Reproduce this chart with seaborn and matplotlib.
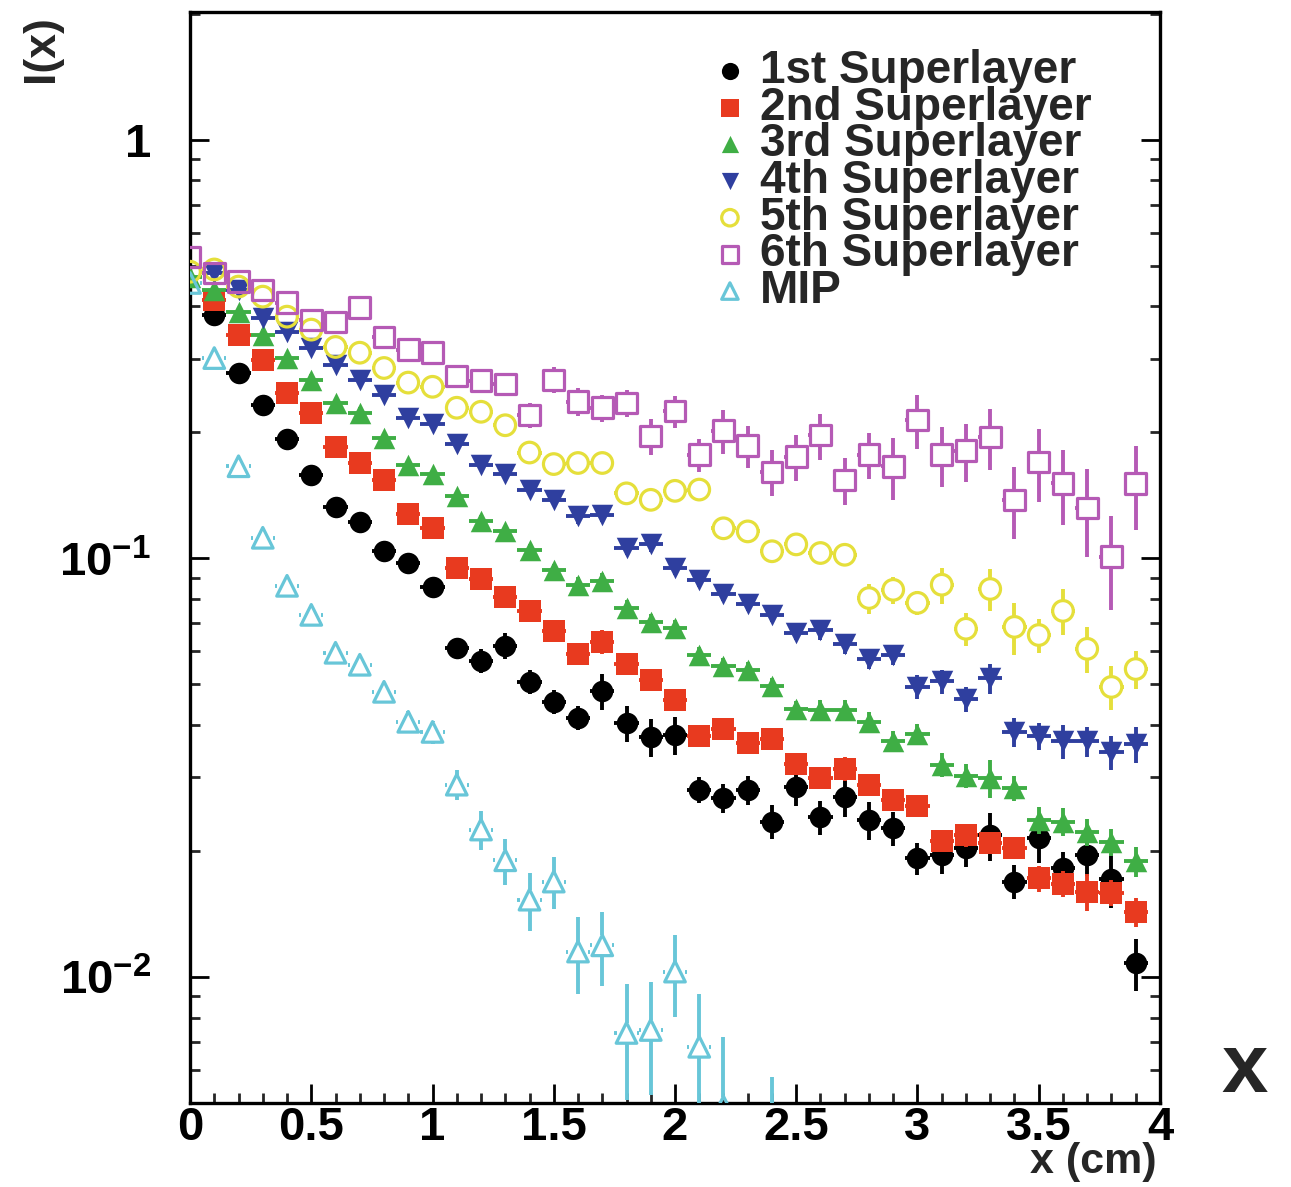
import numpy as np
import matplotlib
matplotlib.use('Agg')
import matplotlib.pyplot as plt
import seaborn as sns
from matplotlib.ticker import MultipleLocator, NullFormatter, LogLocator

nan = np.nan

# --- data ---
# bin centres (cm)
x_cm = [0.0, 0.1, 0.2, 0.3, 0.4, 0.5, 0.6, 0.7, 0.8, 0.9,
        1.0, 1.1, 1.2, 1.3, 1.4, 1.5, 1.6, 1.7, 1.8, 1.9,
        2.0, 2.1, 2.2, 2.3, 2.4, 2.5, 2.6, 2.7, 2.8, 2.9,
        3.0, 3.1, 3.2, 3.3, 3.4, 3.5, 3.6, 3.7, 3.8, 3.9]

sl1 = [nan, 0.382, 0.277, 0.233, 0.193, 0.158, 0.133, 0.122, 0.104, 0.0976,
       0.0855, 0.0611, 0.0569, 0.0618, 0.0507, 0.0454, 0.0416, 0.0482, 0.0405, 0.0374,
       0.0379, 0.0280, 0.0268, 0.0280, 0.0235, 0.0284, 0.0241, 0.0269, 0.0237, 0.0227,
       0.0192, 0.0196, 0.0203, 0.0218, 0.0169, 0.0215, 0.0182, 0.0196, 0.0171, 0.0108]
sl2 = [nan, 0.415, 0.342, 0.298, 0.249, 0.223, 0.185, 0.169, 0.154, 0.128,
       0.118, 0.0949, 0.0893, 0.0809, 0.0749, 0.0671, 0.0591, 0.0631, 0.0560, 0.0513,
       0.0459, 0.0377, 0.0392, 0.0362, 0.0370, 0.0323, 0.0299, 0.0314, 0.0288, 0.0265,
       0.0256, 0.0211, 0.0218, 0.0209, 0.0203, 0.0172, 0.0167, 0.0160, 0.0159, 0.0143]
sl3 = [0.471, 0.438, 0.388, 0.342, 0.301, 0.267, 0.235, 0.223, 0.194, 0.167,
       0.159, 0.141, 0.123, 0.116, 0.105, 0.0939, 0.0865, 0.0884, 0.0762, 0.0705,
       0.0682, 0.0588, 0.0553, 0.0541, 0.0496, 0.0437, 0.0434, 0.0434, 0.0407, 0.0366,
       0.0381, 0.0321, 0.0302, 0.0299, 0.0283, 0.0237, 0.0235, 0.0222, 0.0210, 0.0189]
sl4 = [nan, 0.481, 0.438, 0.376, 0.348, 0.318, 0.290, 0.267, 0.246, 0.217,
       0.210, 0.188, 0.167, 0.159, 0.146, 0.138, 0.126, 0.127, 0.106, 0.108,
       0.0949, 0.0889, 0.0822, 0.0778, 0.0733, 0.0664, 0.0675, 0.0625, 0.0575, 0.0588,
       0.0493, 0.0509, 0.0461, 0.0518, 0.0385, 0.0377, 0.0366, 0.0366, 0.0345, 0.0360]
sl5 = [0.484, 0.490, 0.446, 0.422, 0.378, 0.352, 0.320, 0.310, 0.285, 0.263,
       0.257, 0.229, 0.224, 0.208, 0.179, 0.168, 0.169, 0.169, 0.143, 0.138,
       0.145, 0.146, 0.118, 0.116, 0.104, 0.108, 0.103, 0.102, 0.0804, 0.0841,
       0.0783, 0.0865, 0.0679, 0.0845, 0.0686, 0.0656, 0.0749, 0.0608, 0.0493, 0.0544]
sl6 = [0.525, 0.481, 0.458, 0.438, 0.408, 0.371, 0.367, 0.397, 0.338, 0.315,
       0.310, 0.273, 0.266, 0.261, 0.220, 0.267, 0.237, 0.229, 0.235, 0.196,
       0.225, 0.177, 0.202, 0.186, 0.161, 0.175, 0.197, 0.154, 0.177, 0.166,
       0.214, 0.177, 0.181, 0.195, 0.138, 0.170, 0.151, 0.132, 0.101, 0.151]
mip = [0.455, 0.301, 0.166, 0.112, 0.0860, 0.0733, 0.0595, 0.0557, 0.0480, 0.0407,
       0.0385, 0.0288, 0.0225, 0.0190, 0.0153, 0.0169, 0.0115, 0.0119, 0.00735, 0.00747,
       0.0103, 0.00681, 0.0049, nan, 0.0035, nan, nan, nan, nan, nan,
       nan, nan, nan, nan, nan, nan, nan, nan, nan, nan]

# relative (fractional) errors
err1 = [nan, 0.03, 0.03, 0.03, 0.03, 0.03, 0.04, 0.04, 0.04, 0.04,
        0.04, 0.055, 0.066, 0.071, 0.066, 0.066, 0.066, 0.099, 0.099, 0.104,
        0.104, 0.07, 0.08, 0.08, 0.093, 0.099, 0.093, 0.104, 0.104, 0.093,
        0.088, 0.099, 0.099, 0.131, 0.093, 0.131, 0.093, 0.11, 0.147, 0.142]
err2 = [nan, 0.025, 0.025, 0.025, 0.025, 0.025, 0.025, 0.025, 0.025, 0.025,
        0.025, 0.04, 0.04, 0.04, 0.04, 0.04, 0.055, 0.066, 0.055, 0.055,
        0.055, 0.055, 0.055, 0.055, 0.055, 0.055, 0.055, 0.066, 0.06, 0.06,
        0.06, 0.06, 0.06, 0.06, 0.06, 0.07, 0.07, 0.104, 0.07, 0.082]
err3 = [0.03, 0.03, 0.03, 0.03, 0.03, 0.03, 0.03, 0.03, 0.03, 0.03,
        0.03, 0.03, 0.03, 0.03, 0.03, 0.03, 0.045, 0.045, 0.045, 0.045,
        0.045, 0.045, 0.045, 0.045, 0.045, 0.045, 0.055, 0.055, 0.055, 0.055,
        0.055, 0.066, 0.066, 0.104, 0.07, 0.075, 0.075, 0.075, 0.075, 0.082]
err4 = [nan, 0.03, 0.03, 0.03, 0.03, 0.03, 0.03, 0.03, 0.03, 0.03,
        0.03, 0.03, 0.03, 0.03, 0.03, 0.03, 0.04, 0.04, 0.04, 0.04,
        0.04, 0.04, 0.04, 0.04, 0.04, 0.04, 0.055, 0.055, 0.055, 0.055,
        0.066, 0.066, 0.07, 0.082, 0.082, 0.075, 0.093, 0.082, 0.093, 0.099]
err5 = [0.03, 0.03, 0.03, 0.03, 0.03, 0.03, 0.03, 0.03, 0.03, 0.03,
        0.03, 0.03, 0.03, 0.03, 0.04, 0.04, 0.04, 0.04, 0.04, 0.04,
        0.04, 0.04, 0.06, 0.06, 0.06, 0.06, 0.06, 0.06, 0.082, 0.075,
        0.066, 0.099, 0.093, 0.115, 0.142, 0.093, 0.126, 0.126, 0.12, 0.104]
err6 = [0.03, 0.03, 0.03, 0.03, 0.03, 0.03, 0.045, 0.045, 0.045, 0.045,
        0.045, 0.06, 0.06, 0.06, 0.071, 0.071, 0.075, 0.075, 0.075, 0.099,
        0.088, 0.09, 0.12, 0.115, 0.126, 0.126, 0.126, 0.131, 0.126, 0.168,
        0.147, 0.163, 0.158, 0.168, 0.195, 0.2, 0.205, 0.237, 0.253, 0.226]
err_mip = [0.005, 0.01, 0.015, 0.02, 0.028, 0.033, 0.04, 0.043, 0.05, 0.059,
           0.062, 0.083, 0.107, 0.126, 0.157, 0.142, 0.209, 0.202, 0.31, 0.30,
           0.22, 0.34, 0.47, nan, 0.65, nan, nan, nan, nan, nan,
           nan, nan, nan, nan, nan, nan, nan, nan, nan, nan]

labels = ['1st Superlayer', '2nd Superlayer', '3rd Superlayer', '4th Superlayer',
          '5th Superlayer', '6th Superlayer', 'MIP']
series = [sl1, sl2, sl3, sl4, sl5, sl6, mip]
errors = [err1, err2, err3, err4, err5, err6, err_mip]
colors = ['#000000', '#e83a1f', '#3fae45', '#2f3f9f', '#e5df3b', '#b55ab5', '#68c6d8']
markers = ['o', 's', '^', 'v', 'o', 's', '^']
filled = [True, True, True, True, False, False, False]

# --- style ---
sns.set_theme(style='ticks')
plt.rcParams['font.family'] = ['Liberation Sans', 'DejaVu Sans']
plt.rcParams['font.weight'] = 'bold'
plt.rcParams['mathtext.fontset'] = 'custom'
plt.rcParams['mathtext.rm'] = 'Liberation Sans:bold'
plt.rcParams['mathtext.bf'] = 'Liberation Sans:bold'
plt.rcParams['mathtext.default'] = 'rm'

fig = plt.figure(figsize=(12.91, 11.87), dpi=100)
ax = fig.add_axes([0.1472, 0.0708, 0.7513, 0.9191])
ax.set_yscale('log')
ax.set_xlim(0, 4)
ax.set_ylim(0.005, 2.02)

PX_DECADE = 418.5   # pixels per decade on the y axis
PX_UNIT = 242.5     # pixels per cm on the x axis


def draw_errors(x, y, rel, color, z, gap_px):
    x = np.asarray(x, float)
    y = np.asarray(y, float)
    rel = np.asarray(rel, float)
    ok = ~np.isnan(y)
    x, y, e = x[ok], y[ok], (y * rel)[ok]
    gy = 10 ** (gap_px / PX_DECADE)
    gx = gap_px / PX_UNIT
    hi = y + e
    lo = np.clip(y - e, 1e-6, None)
    up = hi > y * gy
    dn = lo < y / gy
    kw = dict(colors=color, linewidth=2.8, zorder=z)
    ax.vlines(x[up], (y * gy)[up], hi[up], **kw)
    ax.vlines(x[dn], lo[dn], (y / gy)[dn], **kw)
    ax.hlines(y, x - 0.05, x - gx, **kw)
    ax.hlines(y, x + gx, x + 0.05, **kw)


for i in range(len(series)):
    c = colors[i]
    z = 3 + 2 * i
    if filled[i]:
        draw_errors(x_cm, series[i], errors[i], c, z, 0)
        sns.scatterplot(x=x_cm, y=series[i], marker=markers[i], s=240,
                        color=c, edgecolor=c, linewidth=0,
                        label=labels[i], zorder=z + 1, ax=ax, legend=False)
    else:
        draw_errors(x_cm, series[i], errors[i], c, z, 10)
        sns.scatterplot(x=x_cm, y=series[i], marker=markers[i], s=220,
                        facecolors='none', edgecolor=c, linewidth=2.3,
                        label=labels[i], zorder=z + 1, ax=ax, legend=False)

# --- axes cosmetics ---
ax.set_xticks([0, 0.5, 1, 1.5, 2, 2.5, 3, 3.5, 4])
ax.set_xticklabels(['0', '0.5', '1', '1.5', '2', '2.5', '3', '3.5', '4'])
ax.xaxis.set_minor_locator(MultipleLocator(0.1))
ax.set_yticks([0.01, 0.1, 1])
ax.set_yticklabels([r'$10^{-2}$', r'$10^{-1}$', '1'])
ax.yaxis.set_minor_locator(LogLocator(base=10, subs=np.arange(2, 10)))
ax.yaxis.set_minor_formatter(NullFormatter())
ax.set_ylim(0.005, 2.02)

ax.tick_params(axis='both', which='major', direction='in', length=14, width=2,
               labelsize=34, top=False, right=True, colors='black')
ax.tick_params(axis='both', which='minor', direction='in', length=7, width=2,
               top=False, right=True)
ax.tick_params(axis='x', which='major', pad=2)
ax.tick_params(axis='y', which='major', pad=28)
for sp in ax.spines.values():
    sp.set_linewidth(2.4)
    sp.set_color('black')
ax.grid(False)

ax.set_xlabel('x (cm)', fontsize=31, fontweight='bold', loc='right')
ax.xaxis.set_label_coords(0.997, -0.036)
ax.set_ylabel('I(x)', fontsize=32, fontweight='bold', loc='top')
ax.yaxis.set_label_coords(-0.132, 0.997)

ax.legend(loc='upper left', bbox_to_anchor=(0.533, 0.966), frameon=False,
          fontsize=33, handlelength=1.0, handletextpad=0.15, labelspacing=-0.16,
          borderpad=0, borderaxespad=0, markerscale=0.8)

fig.text(0.9644, 0.0986, 'x', fontsize=60, fontweight='bold',
         ha='center', va='center')

fig.savefig('out.png', dpi=100)
